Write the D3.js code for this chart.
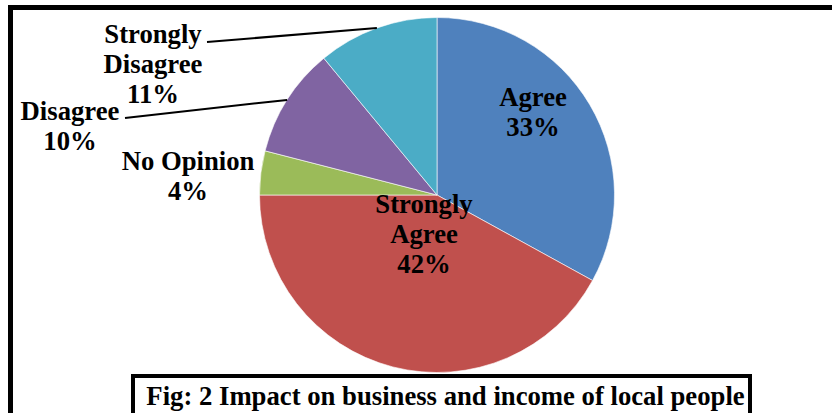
<!DOCTYPE html>
<html>
<head>
<meta charset="utf-8">
<script src="https://cdn.jsdelivr.net/npm/d3@7"></script>
<style>
  html, body { margin: 0; padding: 0; background: #fff; }
  svg { display: block; }
  text { font-family: "Liberation Serif", "Times New Roman", serif; font-weight: bold; fill: #000; }
</style>
</head>
<body>
<svg id="chart" width="832" height="413"></svg>
<script>
// Survey responses: impact on business and income of local people
const categories = ["Agree", "Strongly Agree", "No Opinion", "Disagree", "Strongly Disagree"];
const labelLines = [["Agree"], ["Strongly", "Agree"], ["No Opinion"], ["Disagree"], ["Strongly", "Disagree"]];
const percentages = [33, 42, 4, 10, 11];
const colors = ["#4F81BD", "#C0504D", "#9BBB59", "#8064A2", "#4BACC6"];
const caption = "Fig: 2 Impact on business and income of local people";

const W = 832, H = 413;
const cx = 437, cy = 195, radius = 177.5;

const svg = d3.select("#chart");

// outer frame (runs off the right and bottom edges)
svg.append("rect")
  .attr("x", 10.5).attr("y", 7.5)
  .attr("width", W + 20).attr("height", H + 20)
  .attr("fill", "none").attr("stroke", "#000").attr("stroke-width", 5);

const data = categories.map((c, i) => ({ name: c, lines: labelLines[i], value: percentages[i], color: colors[i] }));

const pie = d3.pie().value(d => d.value).sort(null);
const arcs = pie(data);
const arc = d3.arc().innerRadius(0).outerRadius(radius);

const g = svg.append("g").attr("transform", `translate(${cx},${cy})`);

g.selectAll("path.slice")
  .data(arcs)
  .enter().append("path")
  .attr("class", "slice")
  .attr("d", arc)
  .attr("fill", d => d.data.color)
  .attr("stroke", "#fff")
  .attr("stroke-width", 0.6);

// label placement (offsets from the pie centre; anchor point for leader lines)
const labelPos = {
  "Agree":             { x: 96,   y: -89, lead: null },
  "Strongly Agree":    { x: -13,  y: 18,  lead: null },
  "No Opinion":        { x: -249, y: -25, lead: null },
  "Disagree":          { x: -367, y: -75, lead: [-312, -77] },
  "Strongly Disagree": { x: -284, y: -152, lead: [-230, -153] }
};
const lineH = 30;
const fontSize = 26.7;

arcs.forEach(a => {
  const p = labelPos[a.data.name];
  const lines = a.data.lines.concat([a.data.value + "%"]);
  const t = g.append("text")
    .attr("text-anchor", "middle")
    .attr("font-size", fontSize);
  lines.forEach((ln, i) => {
    t.append("tspan").attr("x", p.x).attr("y", p.y + i * lineH).text(ln);
  });
  if (p.lead) {
    const mid = (a.startAngle + a.endAngle) / 2;
    const ex = Math.sin(mid) * radius, ey = -Math.cos(mid) * radius;
    g.append("line")
      .attr("x1", p.lead[0]).attr("y1", p.lead[1])
      .attr("x2", ex).attr("y2", ey)
      .attr("stroke", "#000").attr("stroke-width", 2);
  }
});

// caption box
svg.append("rect")
  .attr("x", 133).attr("y", 376)
  .attr("width", 617).attr("height", 60)
  .attr("fill", "#fff").attr("stroke", "#000").attr("stroke-width", 4);

svg.append("text")
  .attr("x", 445.5).attr("y", 405)
  .attr("text-anchor", "middle")
  .attr("font-size", 26.7)
  .text(caption);
</script>
</body>
</html>
